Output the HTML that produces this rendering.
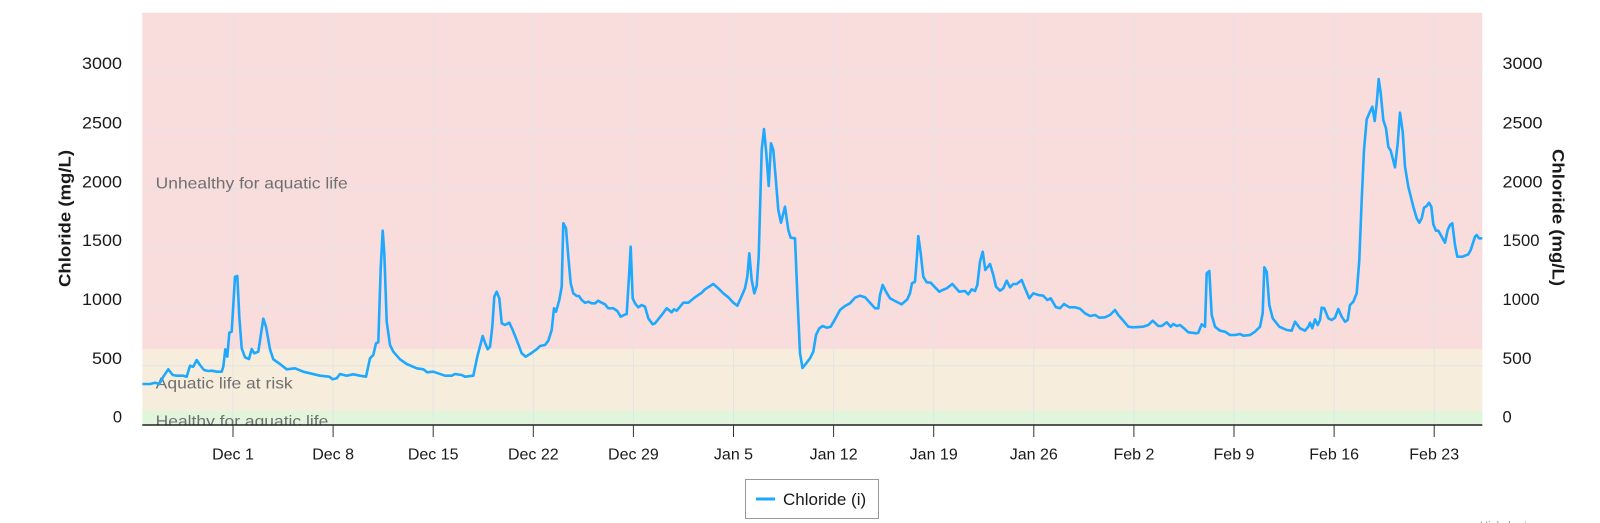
<!DOCTYPE html>
<html><head><meta charset="utf-8"><style>
html,body{margin:0;padding:0;background:#fff;}
svg{display:block;font-family:"Liberation Sans",sans-serif;}
</style></head><body>
<svg width="1600" height="523" viewBox="0 0 1600 523" xmlns="http://www.w3.org/2000/svg">
<defs><clipPath id="pc"><rect x="142.3" y="12.7" width="1340" height="412.1"/></clipPath></defs>
<rect x="0" y="0" width="1600" height="523" fill="#fff"/>
<!-- bands -->
<rect x="142.3" y="12.7" width="1340" height="336.6" fill="#f9dcdc"/>
<rect x="142.3" y="349.3" width="1340" height="61.7" fill="#f7eddc"/>
<rect x="142.3" y="411" width="1340" height="13.8" fill="#e1f5dc"/>
<!-- grid -->
<g stroke="#e4e4e4" stroke-width="1">
<line x1="142.3" x2="1482.3" y1="70.7" y2="70.7"/>
<line x1="142.3" x2="1482.3" y1="130" y2="130"/>
<line x1="142.3" x2="1482.3" y1="189" y2="189"/>
<line x1="142.3" x2="1482.3" y1="247.7" y2="247.7"/>
<line x1="142.3" x2="1482.3" y1="306.7" y2="306.7"/>
<line x1="142.3" x2="1482.3" y1="365.7" y2="365.7"/>
<line x1="233" x2="233" y1="12.7" y2="425"/>
<line x1="333.1" x2="333.1" y1="12.7" y2="425"/>
<line x1="433.2" x2="433.2" y1="12.7" y2="425"/>
<line x1="533.3" x2="533.3" y1="12.7" y2="425"/>
<line x1="633.4" x2="633.4" y1="12.7" y2="425"/>
<line x1="733.5" x2="733.5" y1="12.7" y2="425"/>
<line x1="833.6" x2="833.6" y1="12.7" y2="425"/>
<line x1="933.7" x2="933.7" y1="12.7" y2="425"/>
<line x1="1033.8" x2="1033.8" y1="12.7" y2="425"/>
<line x1="1133.9" x2="1133.9" y1="12.7" y2="425"/>
<line x1="1234" x2="1234" y1="12.7" y2="425"/>
<line x1="1334.1" x2="1334.1" y1="12.7" y2="425"/>
<line x1="1434.2" x2="1434.2" y1="12.7" y2="425"/>
</g>
<!-- band labels -->
<g clip-path="url(#pc)" fill="#707070" font-size="16">
<text x="155.7" y="188.3" textLength="192" lengthAdjust="spacingAndGlyphs">Unhealthy for aquatic life</text>
<text x="155.7" y="388.3" textLength="137" lengthAdjust="spacingAndGlyphs">Aquatic life at risk</text>
<text x="155.7" y="426.3" textLength="172.6" lengthAdjust="spacingAndGlyphs">Healthy for aquatic life</text>
</g>
<!-- series -->
<path clip-path="url(#pc)" fill="none" stroke="#1ea9ff" stroke-width="2.6" stroke-linejoin="round" stroke-linecap="round" d="M142.3,384 L150,384 L155,382.7 L159.3,384 L163.3,376.7 L168.3,369.3 L172.7,375 L176.7,375.7 L183.3,375.7 L186.7,376.7 L190,365.7 L193.3,366.7 L196.7,360 L200,365 L204,370 L208.3,371 L211.7,370.7 L216.7,371.7 L221.7,371.7 L223.3,366.7 L225.3,349.3 L227.3,356.7 L229.3,332.7 L231.7,331.7 L235,276.7 L237.3,276 L239.3,316.7 L241.7,348.3 L245,357.3 L249,359 L251.7,349 L254.3,353.3 L258.3,351.7 L263.3,318.7 L266,326.7 L270,349.3 L273.3,359.3 L280,364 L286.7,369.3 L295,368.3 L303.3,371.7 L310,373.3 L320,375.7 L329.3,376.7 L332.7,379.3 L336.7,378.3 L340,374 L346.7,375.7 L353.3,374.3 L360,375.7 L366,376.7 L370,358.3 L373.3,355 L376,343.3 L378.3,342.3 L380.7,268.3 L382.7,230.7 L384.3,253.3 L386.7,321.7 L390,345 L393.3,351.7 L400,359.3 L406.7,364 L416.7,368.3 L423.3,369.3 L427.3,372.3 L433.3,371.7 L445,375.7 L451.7,375.7 L455,374 L461.7,375 L465,376.7 L473.3,375.7 L477.3,356.7 L482.7,336 L485,342.7 L487.7,349.3 L490,346.7 L492.3,326.7 L494.3,296.7 L496.7,291.7 L499.3,298.3 L501.7,323.3 L505,325 L509.3,322.7 L512.7,330 L516.7,340 L521.7,353.3 L525.7,356.7 L530,354 L536.7,349.3 L540,346 L545,345 L548.3,340.7 L551.7,330 L554,308.3 L556,311.7 L559.3,300 L561.7,286.7 L563.3,223.3 L566,228.3 L568.3,256.7 L570.7,283.3 L573.3,293.3 L576.7,296 L579,296 L581.7,300 L585,302.7 L588.3,301.7 L591.7,303.3 L595,303.3 L598.3,300.7 L601.7,302.7 L605,304.3 L608.3,308.3 L613.3,308.3 L617.3,311 L620.7,316.7 L624,315 L626.7,314 L629,276.7 L630.7,246.7 L632.7,298.3 L635,303.3 L638.3,307.3 L641.7,305 L645,306.7 L648.3,318.3 L652.7,324.3 L655,323.3 L661.7,315 L666.7,308.3 L671.7,312.3 L674,309.3 L676.7,310.7 L683.3,302.7 L688.3,302.7 L695,297.3 L701.7,292.7 L705,289.3 L713.3,284 L718.3,288.3 L723.3,293.3 L728.3,297.3 L733.3,302.7 L737.3,305.7 L740.7,298.3 L745,288.3 L747.3,276.7 L749.3,253.3 L751.7,280 L754.3,293.3 L756.7,286 L758.7,256.7 L760,210 L761.7,150 L764,129 L766.3,153.3 L768.7,186 L771,143.3 L773.3,150 L776,181.7 L778.3,210 L781,222.7 L785,206.7 L788.3,230 L790.7,237.7 L795,238.3 L797.7,303.3 L800,353.3 L802.5,368 L806.7,362.7 L810,358.3 L813.3,351.7 L816,335 L819.3,328.3 L822.7,326 L826.7,327.7 L830.7,326.7 L835,319.3 L840,310 L845,306 L850,303.3 L855,297.7 L860,295.7 L865,297.3 L870,302.7 L875,308.3 L878.3,308.3 L880,295 L882.7,285 L886,291.7 L890,298.3 L895,301 L901.7,304.3 L907.3,299.3 L910,293.3 L912,283.3 L915,281.7 L916.7,260 L918.3,236 L920.7,253.3 L923.3,276.7 L926.7,282.3 L930.7,282.7 L935,287.3 L939.3,291.7 L942.7,290 L946.7,288.3 L952.3,284 L959.3,291.7 L965,291 L968.3,294.3 L971.7,289.3 L975,291 L977.3,285 L980,261.7 L982.7,251.7 L985.3,270 L990,264 L993.3,275 L996,286.7 L1000,290.7 L1003.3,288.3 L1006.7,280.7 L1010,287.3 L1013.3,284 L1016.7,284 L1021.7,280 L1025,288.3 L1029.3,298.3 L1033.3,293.3 L1038.3,295 L1043.3,295.7 L1047.3,300 L1050.7,298.3 L1056,307.3 L1060,308.3 L1064,304 L1069.3,307.3 L1075,307.3 L1080,308.7 L1085,313.3 L1090,316 L1095,315 L1099.3,317.7 L1105,317.3 L1110,315 L1115,310 L1118.3,315 L1123.3,320.7 L1128.3,326.7 L1133.3,327.3 L1143.3,326.7 L1148.3,325 L1152.7,320.7 L1158.3,326 L1161.7,326 L1166.7,322.3 L1170.7,326.7 L1173.3,324 L1176.7,326 L1180,325 L1183.3,327.7 L1188.3,332.3 L1196.7,333.3 L1198.3,332.7 L1201.7,324.3 L1205,326.7 L1206.7,273.3 L1209.3,271 L1211.7,315 L1215,326.7 L1220,330.7 L1225,331.7 L1230,335 L1235,335 L1240,334 L1243.3,335.7 L1250,335 L1255,331.7 L1260,326.7 L1262.7,313.3 L1264.3,267.3 L1266.7,271.7 L1269.3,305 L1272.7,318.3 L1279.3,326.7 L1286.7,330 L1291.7,330.7 L1295,321.7 L1300,328.3 L1305,330.7 L1308.3,326.7 L1310,322.7 L1312.3,328.3 L1315,319.3 L1317.7,325 L1320,320 L1321.7,307.7 L1324.3,308.3 L1328.3,318.3 L1331.7,320 L1335,317.7 L1338.3,309 L1341.7,316.7 L1345,321.7 L1347.7,320 L1350,305 L1353.3,301.7 L1356.7,293.3 L1359.3,260 L1361.7,200 L1364,150 L1366.7,119.3 L1370,111.7 L1372.3,106.7 L1374.7,121 L1376.7,103.3 L1378.7,79 L1380.7,93.3 L1383.3,120 L1386,128.3 L1388.3,146.7 L1390.7,150.7 L1395,167.3 L1397.7,143.3 L1400,112.7 L1402.7,131.7 L1405,166.7 L1408.3,186.7 L1413.3,206.7 L1416.7,218.3 L1419.3,222.7 L1421.7,218.3 L1424,207.7 L1426.7,206 L1429,202.7 L1431.3,206.7 L1433.3,224.3 L1436,230.7 L1438.3,230.7 L1441.7,236.7 L1445,242.7 L1447.7,230 L1450,225 L1452.3,223.3 L1455,245 L1457.3,256.7 L1462.7,256.7 L1465,255.7 L1468.3,254.3 L1470.7,250 L1475,236.7 L1476.7,235 L1479,238.3 L1482.3,238.3"/>
<!-- x axis -->
<line x1="142.3" x2="1482.3" y1="425" y2="425" stroke="#222" stroke-width="1.5"/>
<g stroke="#333" stroke-width="1">
<line x1="233" x2="233" y1="425" y2="437"/>
<line x1="333.1" x2="333.1" y1="425" y2="437"/>
<line x1="433.2" x2="433.2" y1="425" y2="437"/>
<line x1="533.3" x2="533.3" y1="425" y2="437"/>
<line x1="633.4" x2="633.4" y1="425" y2="437"/>
<line x1="733.5" x2="733.5" y1="425" y2="437"/>
<line x1="833.6" x2="833.6" y1="425" y2="437"/>
<line x1="933.7" x2="933.7" y1="425" y2="437"/>
<line x1="1033.8" x2="1033.8" y1="425" y2="437"/>
<line x1="1133.9" x2="1133.9" y1="425" y2="437"/>
<line x1="1234" x2="1234" y1="425" y2="437"/>
<line x1="1334.1" x2="1334.1" y1="425" y2="437"/>
<line x1="1434.2" x2="1434.2" y1="425" y2="437"/>
</g>
<g fill="#1a1a1a" font-size="16" text-anchor="middle">
<text x="233" y="459.5">Dec 1</text>
<text x="333.1" y="459.5">Dec 8</text>
<text x="433.2" y="459.5">Dec 15</text>
<text x="533.3" y="459.5">Dec 22</text>
<text x="633.4" y="459.5">Dec 29</text>
<text x="733.5" y="459.5">Jan 5</text>
<text x="833.6" y="459.5">Jan 12</text>
<text x="933.7" y="459.5">Jan 19</text>
<text x="1033.8" y="459.5">Jan 26</text>
<text x="1133.9" y="459.5">Feb 2</text>
<text x="1234" y="459.5">Feb 9</text>
<text x="1334.1" y="459.5">Feb 16</text>
<text x="1434.2" y="459.5">Feb 23</text>
</g>
<!-- left y labels -->
<g fill="#1a1a1a" font-size="16.5" text-anchor="end">
<text x="122" y="69" textLength="40" lengthAdjust="spacingAndGlyphs">3000</text>
<text x="122" y="128.3" textLength="40" lengthAdjust="spacingAndGlyphs">2500</text>
<text x="122" y="187.3" textLength="40" lengthAdjust="spacingAndGlyphs">2000</text>
<text x="122" y="246" textLength="40" lengthAdjust="spacingAndGlyphs">1500</text>
<text x="122" y="305" textLength="40" lengthAdjust="spacingAndGlyphs">1000</text>
<text x="122" y="364" textLength="30" lengthAdjust="spacingAndGlyphs">500</text>
<text x="122" y="422.6">0</text>
</g>
<!-- right y labels -->
<g fill="#1a1a1a" font-size="16.5" text-anchor="start">
<text x="1502.5" y="69" textLength="40" lengthAdjust="spacingAndGlyphs">3000</text>
<text x="1502.5" y="128.3" textLength="40" lengthAdjust="spacingAndGlyphs">2500</text>
<text x="1502.5" y="187.3" textLength="40" lengthAdjust="spacingAndGlyphs">2000</text>
<text x="1502.5" y="246" textLength="37" lengthAdjust="spacingAndGlyphs">1500</text>
<text x="1502.5" y="305" textLength="37" lengthAdjust="spacingAndGlyphs">1000</text>
<text x="1502.5" y="364" textLength="29" lengthAdjust="spacingAndGlyphs">500</text>
<text x="1502.5" y="422.6">0</text>
</g>
<!-- axis titles -->
<text transform="translate(65,218.5) rotate(-90)" text-anchor="middle" dominant-baseline="central" font-size="17" font-weight="bold" fill="#1a1a1a" textLength="137" lengthAdjust="spacingAndGlyphs">Chloride (mg/L)</text>
<text transform="translate(1558,217.5) rotate(90)" text-anchor="middle" dominant-baseline="central" font-size="17" font-weight="bold" fill="#1a1a1a" textLength="137" lengthAdjust="spacingAndGlyphs">Chloride (mg/L)</text>
<!-- legend -->
<rect x="745.5" y="479.5" width="133" height="39" fill="#fff" stroke="#999" stroke-width="1"/>
<line x1="756" x2="775" y1="499" y2="499" stroke="#1ea9ff" stroke-width="3"/>
<text x="783" y="505" font-size="17" fill="#1a1a1a">Chloride (i)</text>
<!-- credit -->
<text x="1480" y="529" font-size="11" fill="#999">Highcharts.com</text>
</svg>
</body></html>
